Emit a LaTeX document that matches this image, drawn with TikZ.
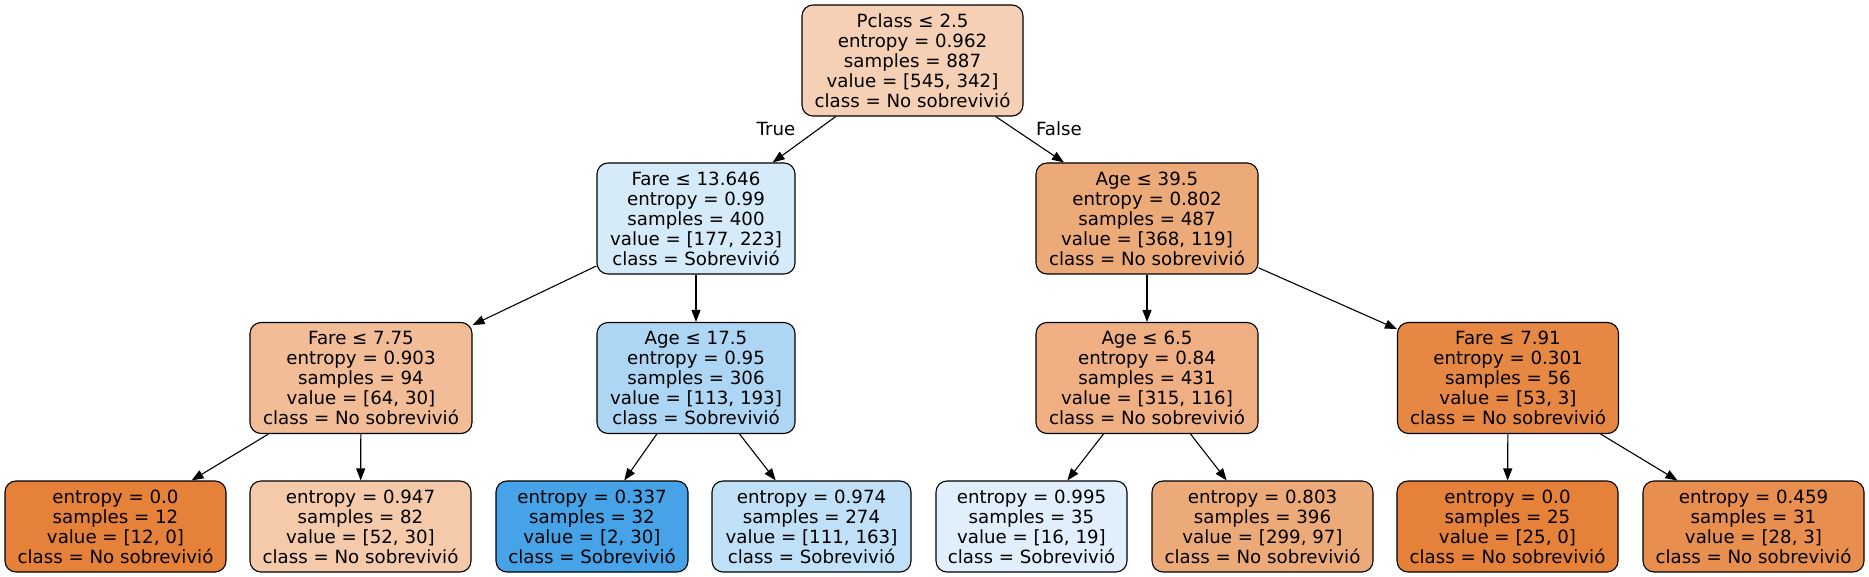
\documentclass[tikz,border=0pt]{standalone}
\usepackage{fontspec}
\setmainfont{DejaVu Sans}
\usetikzlibrary{arrows.meta}

\definecolor{cRoot}{RGB}{245,208,181}
\definecolor{cFareA}{RGB}{214,235,250}
\definecolor{cAgeA}{RGB}{237,170,121}
\definecolor{cFareB}{RGB}{241,188,150}
\definecolor{cAgeB}{RGB}{173,214,244}
\definecolor{cAgeC}{RGB}{239,175,130}
\definecolor{cFareC}{RGB}{230,136,68}
\definecolor{cLeafA}{RGB}{229,129,57}
\definecolor{cLeafB}{RGB}{244,202,171}
\definecolor{cLeafC}{RGB}{70,163,231}
\definecolor{cLeafD}{RGB}{192,224,247}
\definecolor{cLeafE}{RGB}{224,239,251}
\definecolor{cLeafF}{RGB}{237,170,121}
\definecolor{cLeafG}{RGB}{229,129,57}
\definecolor{cLeafH}{RGB}{232,142,78}

\tikzset{
  tnode/.style={draw, line width=1.1pt, rounded corners=11pt, align=center,
    inner sep=0pt, minimum height=111pt,
    font=\fontsize{18.2}{20}\selectfont},
  leafnode/.style={tnode, minimum height=91pt},
  treeedge/.style={-{Triangle[length=12pt,width=9pt]}, line width=1.1pt},
  edgelabel/.style={font=\fontsize{18.2}{20}\selectfont}
}

\begin{document}
\begin{tikzpicture}[x=1pt,y=1pt]
            \useasboundingbox (0,0) rectangle (1869,-577);
            \node[tnode, fill=cRoot, minimum width=221pt] (root) at (912.5,-60.5)
              {Pclass ≤ 2.5\\entropy = 0.962\\samples = 887\\value = [545, 342]\\class = No sobrevivió};
            \node[tnode, fill=cFareA, minimum width=198pt] (fareA) at (696,-218.5)
              {Fare ≤ 13.646\\entropy = 0.99\\samples = 400\\value = [177, 223]\\class = Sobrevivió};
            \node[tnode, fill=cAgeA, minimum width=222pt] (ageA) at (1147,-218.5)
              {Age ≤ 39.5\\entropy = 0.802\\samples = 487\\value = [368, 119]\\class = No sobrevivió};
            \node[tnode, fill=cFareB, minimum width=222pt] (fareB) at (361,-378)
              {Fare ≤ 7.75\\entropy = 0.903\\samples = 94\\value = [64, 30]\\class = No sobrevivió};
            \node[tnode, fill=cAgeB, minimum width=198pt] (ageB) at (696,-378)
              {Age ≤ 17.5\\entropy = 0.95\\samples = 306\\value = [113, 193]\\class = Sobrevivió};
            \node[tnode, fill=cAgeC, minimum width=222pt] (ageC) at (1147,-378)
              {Age ≤ 6.5\\entropy = 0.84\\samples = 431\\value = [315, 116]\\class = No sobrevivió};
            \node[tnode, fill=cFareC, minimum width=221pt] (fareC) at (1508,-378)
              {Fare ≤ 7.91\\entropy = 0.301\\samples = 56\\value = [53, 3]\\class = No sobrevivió};
            \node[leafnode, fill=cLeafA, minimum width=221pt] (leafA) at (115.5,-526.5)
              {entropy = 0.0\\samples = 12\\value = [12, 0]\\class = No sobrevivió};
            \node[leafnode, fill=cLeafB, minimum width=221pt] (leafB) at (360.5,-526.5)
              {entropy = 0.947\\samples = 82\\value = [52, 30]\\class = No sobrevivió};
            \node[leafnode, fill=cLeafC, minimum width=192pt] (leafC) at (592,-526.5)
              {entropy = 0.337\\samples = 32\\value = [2, 30]\\class = Sobrevivió};
            \node[leafnode, fill=cLeafD, minimum width=199pt] (leafD) at (811.5,-526.5)
              {entropy = 0.974\\samples = 274\\value = [111, 163]\\class = Sobrevivió};
            \node[leafnode, fill=cLeafE, minimum width=191pt] (leafE) at (1031.5,-526.5)
              {entropy = 0.995\\samples = 35\\value = [16, 19]\\class = Sobrevivió};
            \node[leafnode, fill=cLeafF, minimum width=221pt] (leafF) at (1262.5,-526.5)
              {entropy = 0.803\\samples = 396\\value = [299, 97]\\class = No sobrevivió};
            \node[leafnode, fill=cLeafG, minimum width=221pt] (leafG) at (1507.5,-526.5)
              {entropy = 0.0\\samples = 25\\value = [25, 0]\\class = No sobrevivió};
            \node[leafnode, fill=cLeafH, minimum width=221pt] (leafH) at (1753.5,-526.5)
              {entropy = 0.459\\samples = 31\\value = [28, 3]\\class = No sobrevivió};
            \node[edgelabel] (truelbl) at (776,-129) {True};
            \node[edgelabel] (falselbl) at (1059,-129) {False};
            \draw[treeedge] (root) -- (fareA);
            \draw[treeedge] (root) -- (ageA);
            \draw[treeedge] (fareA) -- (fareB);
            \draw[treeedge] (fareA) -- (ageB);
            \draw[treeedge] (ageA) -- (ageC);
            \draw[treeedge] (ageA) -- (fareC);
            \draw[treeedge] (fareB) -- (leafA);
            \draw[treeedge] (fareB) -- (leafB);
            \draw[treeedge] (ageB) -- (leafC);
            \draw[treeedge] (ageB) -- (leafD);
            \draw[treeedge] (ageC) -- (leafE);
            \draw[treeedge] (ageC) -- (leafF);
            \draw[treeedge] (fareC) -- (leafG);
            \draw[treeedge] (fareC) -- (leafH);
        \end{tikzpicture}
\end{document}
